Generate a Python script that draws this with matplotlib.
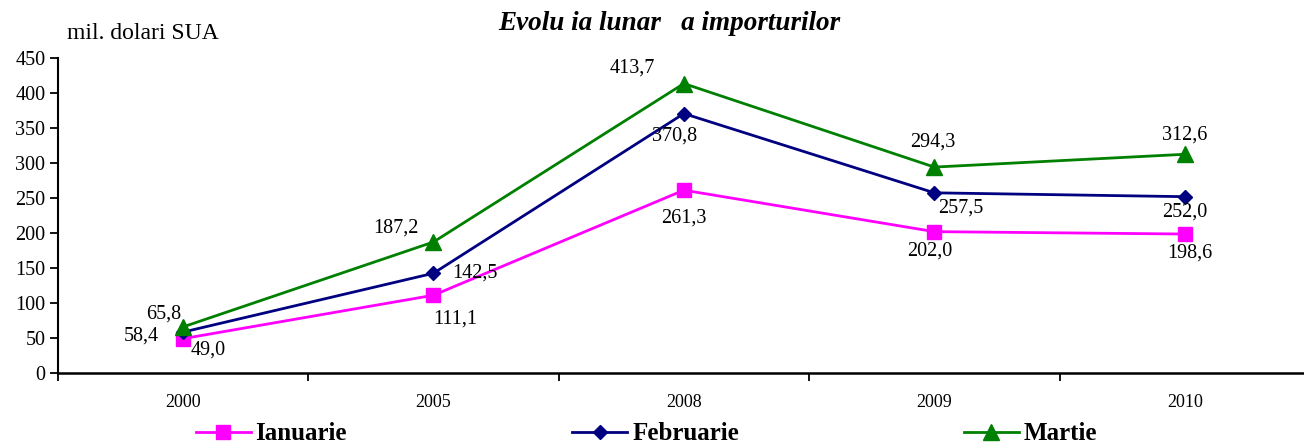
import matplotlib.pyplot as plt
import numpy as np

plt.rcParams['font.family'] = ['Liberation Serif', 'DejaVu Serif']

ani = ['2000', '2005', '2008', '2009', '2010']
ianuarie = [49.0, 111.1, 261.3, 202.0, 198.6]
februarie = [58.4, 142.5, 370.8, 257.5, 252.0]
martie = [65.8, 187.2, 413.7, 294.3, 312.6]

fig = plt.figure(figsize=(13.04, 4.44), dpi=100)
ax = fig.add_axes([0.0443, 0.16, 0.9603, 0.709])
x = np.arange(len(ani))

ax.plot(x, ianuarie, color='#FF00FF', marker='s', markersize=9.5, lw=2, label='Ianuarie')
ax.plot(x, februarie, color='#000080', marker='D', markersize=7.5, lw=2, label='Februarie')
ax.plot(x, martie, color='#008000', marker='^', markersize=11.5, lw=2, label='Martie')

def fmt(v):
    return ('%.1f' % v).replace('.', ',')

# decalaje etichete (puncte)
off_ian = [(18, -8), (16, -17), (0, -20), (-3, -14), (4, -14)]
off_feb = [(-30, -3), (30, 0), (-7, -16), (19, -11), (0, -11)]
off_mar = [(-14, 9), (-27, 10), (-37, 11), (-1, 18), (0, 14)]
for vals, offs in ((ianuarie, off_ian), (februarie, off_feb), (martie, off_mar)):
    for i, v in enumerate(vals):
        ax.annotate(fmt(v), (x[i], v), xytext=offs[i], textcoords='offset points',
                    ha='center', va='center', fontsize=14.5)

ax.set_xlim(-0.5, 4.5)
ax.set_ylim(0, 450)
ax.set_yticks(range(0, 451, 50))
ax.set_xticks(x)
ax.set_xticklabels(ani)
ax.set_xticks(np.arange(-0.5, 4.6, 1), minor=True)
ax.tick_params(axis='x', which='major', length=0, pad=15, labelsize=13)
ax.tick_params(axis='x', which='minor', length=6, width=1.3, direction='out')
ax.tick_params(axis='y', length=6, width=1.3, labelsize=14.5, pad=3)
for s in ('top', 'right'):
    ax.spines[s].set_visible(False)
ax.spines['left'].set_linewidth(1.5)
ax.spines['bottom'].set_linewidth(1.8)

fig.text(0.051, 0.925, 'mil. dolari SUA', fontsize=17, ha='left', va='center')
fig.text(0.513, 0.946, 'Evolu ia lunar   a importurilor', fontsize=19.5,
         fontweight='bold', fontstyle='italic', ha='center', va='center')

fig.legend(loc='center left', bbox_to_anchor=(0.150, 0.023), ncol=3, frameon=False,
           prop={'weight': 'bold', 'size': 18}, columnspacing=9.0, handlelength=2.2,
           handletextpad=0.2, borderaxespad=0, borderpad=0)

fig.savefig('out.png', dpi=100)
